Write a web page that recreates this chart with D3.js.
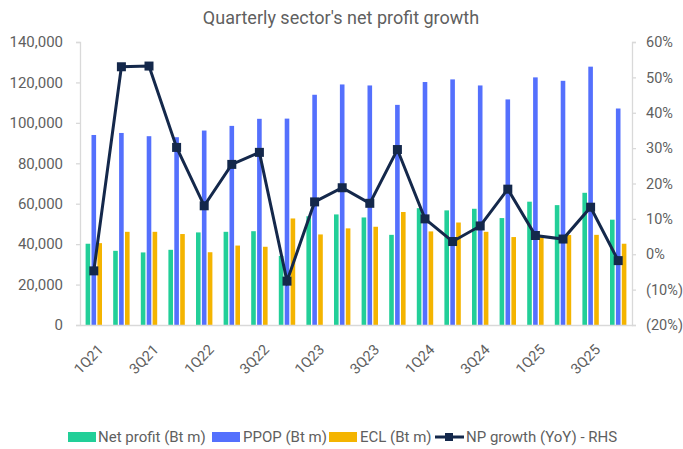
<!DOCTYPE html>
<html><head><meta charset="utf-8">
<script src="https://cdn.jsdelivr.net/npm/d3@7"></script>
<style>
body{margin:0;background:#fff;}
svg{display:block;font-family:Roboto, "Noto Sans", sans-serif;}
</style></head>
<body><svg id="c" width="683" height="449"></svg>
<script>
const quarters = ["1Q21","2Q21","3Q21","4Q21","1Q22","2Q22","3Q22","4Q22","1Q23","2Q23","3Q23","4Q23","1Q24","2Q24","3Q24","4Q24","1Q25","2Q25","3Q25","4Q25"];
const netProfit = [40200,36700,35900,37200,45800,46100,46400,34200,53800,54700,53200,44600,57800,56700,57500,52900,61000,59300,65400,52100];
const ppop = [94000,95000,93400,92900,96200,98500,102000,102100,113900,119000,118500,108900,120200,121500,118500,111600,122500,120800,127800,107100];
const ecl = [40500,46100,46100,45000,36000,39300,38700,52700,44800,47800,48600,55900,46300,50700,46100,43500,44500,44500,44600,40200];
const npGrowth = [-0.047,0.530,0.532,0.302,0.137,0.254,0.288,-0.076,0.148,0.188,0.144,0.296,0.100,0.036,0.080,0.184,0.053,0.043,0.133,-0.018];
const leftTicks = [0,20000,40000,60000,80000,100000,120000,140000];
const rightTicks = [-0.2,-0.1,0,0.1,0.2,0.3,0.4,0.5,0.6];
const xLabels = ["1Q21","3Q21","1Q22","3Q22","1Q23","3Q23","1Q24","3Q24","1Q25","3Q25"];
const seriesNames = ["Net profit (Bt m)","PPOP (Bt m)","ECL (Bt m)"];
const lineName = "NP growth (YoY) - RHS";
const title = "Quarterly sector's net profit growth";

const colors = {"Net profit (Bt m)":"#22CF98","PPOP (Bt m)":"#5470FD","ECL (Bt m)":"#F4B400"};
const lineColor = "#14284B";
const textColor = "#5f5f5f";
const axisColor = "#D9D9D9";

const svg = d3.select("#c");
const L = 80, R = 632, T = 42, B = 325;

const x0 = d3.scaleBand().domain(quarters).range([L,R]).padding(0);
const x1 = d3.scaleBand().domain(seriesNames).range([5.6, x0.bandwidth()-5.6]).paddingInner(0.22);
const yL = d3.scaleLinear().domain([0,140000]).range([B,T]);
const yR = d3.scaleLinear().domain([-0.2,0.6]).range([B,T]);

svg.append("text").attr("x",341).attr("y",24).attr("text-anchor","middle")
  .attr("fill",textColor).attr("font-size",18).text(title);

const seriesData = [netProfit, ppop, ecl];
const g = svg.append("g");
quarters.forEach((q,i)=>{
  seriesNames.forEach((s,k)=>{
    g.append("rect")
      .attr("x", x0(q)+x1(s)).attr("width", x1.bandwidth())
      .attr("y", yL(seriesData[k][i])).attr("height", yL(0)-yL(seriesData[k][i]))
      .attr("fill", colors[s]);
  });
});

// left axis
const ax = svg.append("g").attr("transform",`translate(${L},0)`)
  .call(d3.axisLeft(yL).tickValues(leftTicks).tickFormat(d3.format(",")).tickSize(4).tickPadding(13));
ax.select(".domain").attr("stroke",axisColor).attr("stroke-width",1.3);
ax.selectAll(".tick line").attr("stroke",axisColor).attr("stroke-width",1.3);
ax.selectAll("text").attr("fill",textColor).attr("font-size",15).attr("font-family","Roboto");

// right axis
const fmtR = d => d<0 ? `(${Math.round(-d*100)}%)` : `${Math.round(d*100)}%`;
const ar = svg.append("g").attr("transform",`translate(${R},0)`)
  .call(d3.axisRight(yR).tickValues(rightTicks).tickFormat(fmtR).tickSize(4).tickPadding(10));
ar.select(".domain").attr("stroke",axisColor).attr("stroke-width",1.3);
ar.selectAll(".tick line").attr("stroke",axisColor).attr("stroke-width",1.3);
ar.selectAll("text").attr("fill",textColor).attr("font-size",14.5).attr("font-family","Roboto");

// x baseline
const axb = svg.append("g").attr("transform",`translate(0,${B})`)
  .call(d3.axisBottom(x0).tickValues(xLabels).tickSize(0).tickFormat(""));
axb.select(".domain").attr("stroke",axisColor).attr("stroke-width",1.5);
xLabels.forEach(q=>{
  const cx = x0(q)+x0.bandwidth()/2;
  svg.append("text").attr("transform",`translate(${cx+7},${347}) rotate(-45)`)
    .attr("text-anchor","end").attr("dy","0.35em")
    .attr("fill",textColor).attr("font-size",14.5).text(q);
});

// line
const line = d3.line().x((d,i)=>x0(quarters[i])+x0.bandwidth()/2).y(d=>yR(d));
svg.append("path").datum(npGrowth).attr("d",line).attr("fill","none")
  .attr("stroke",lineColor).attr("stroke-width",3).attr("stroke-linejoin","miter");
svg.selectAll(".mk").data(npGrowth).enter().append("rect")
  .attr("x",(d,i)=>x0(quarters[i])+x0.bandwidth()/2-4.5).attr("y",d=>yR(d)-4.5)
  .attr("width",9).attr("height",9).attr("fill",lineColor);

// legend
const lg = svg.append("g");
const items = [
  {name:seriesNames[0], sx:68, tx:98},
  {name:seriesNames[1], sx:212, tx:243},
  {name:seriesNames[2], sx:329, tx:360}
];
items.forEach(it=>{
  lg.append("rect").attr("x",it.sx).attr("y",432).attr("width",28).attr("height",10).attr("fill",colors[it.name]);
  lg.append("text").attr("x",it.tx).attr("y",437).attr("dy","0.35em").attr("fill",textColor).attr("font-size",15).text(it.name);
});
lg.append("line").attr("x1",435).attr("x2",464).attr("y1",437).attr("y2",437).attr("stroke",lineColor).attr("stroke-width",3);
lg.append("rect").attr("x",445).attr("y",433).attr("width",8).attr("height",8).attr("fill",lineColor);
lg.append("text").attr("x",466).attr("y",437).attr("dy","0.35em").attr("fill",textColor).attr("font-size",15).text(lineName);
</script></body></html>
